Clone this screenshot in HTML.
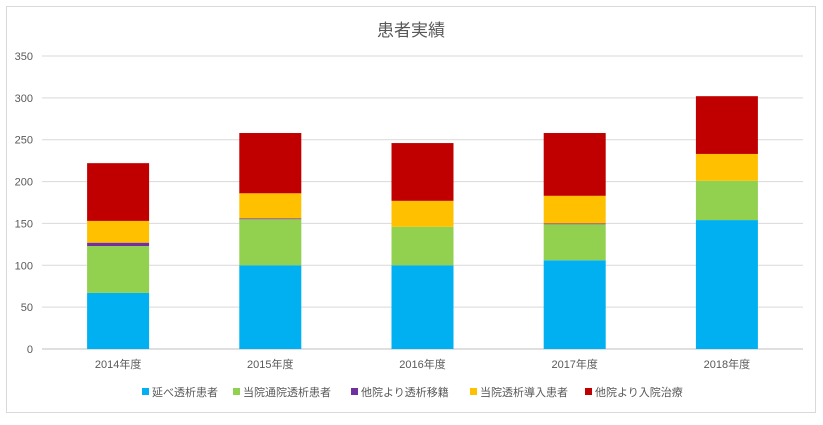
<!DOCTYPE html>
<html><head><meta charset="utf-8"><style>
body{margin:0;background:#fff;}
svg text{font-family:"Liberation Sans","Noto Sans CJK JP",sans-serif;}
</style></head><body>
<svg width="823" height="420" xmlns="http://www.w3.org/2000/svg">
<rect x="6.5" y="6.5" width="809" height="406" fill="#fff" stroke="#d9d9d9"/>
<text x="411" y="36" text-anchor="middle" font-size="17" fill="#595959">患者実績</text>
<g id="grid"></g><g id="bars"></g><g id="xlabels"></g><g id="legend"></g>
</svg>
<script>
const categories=["2014年度","2015年度","2016年度","2017年度","2018年度"];
const seriesNames=["延べ透析患者","当院通院透析患者","他院より透析移籍","当院透析導入患者","他院より入院治療"];
const blue=[67,100,100,106,154];
const green=[56,55,46,43,47];
const purple=[4,1,0,1,0];
const yellow=[26,30,31,33,32];
const red=[69,72,69,75,69];
const yTicks=[0,50,100,150,200,250,300,350];
const colors=["#00b0f0","#92d050","#7030a0","#ffc000","#c00000"];
const series=[blue,green,purple,yellow,red];
const NS="http://www.w3.org/2000/svg";
const x0=42,x1=803,y0=349,y1=56,yMax=350;
const yS=v=>y0-(v/yMax)*(y0-y1);
const band=(x1-x0)/categories.length;
const xC=i=>x0+band*(i+0.5);
const bw=62;
function mk(t,a,p){const e=document.createElementNS(NS,t);for(const k in a)e.setAttribute(k,a[k]);p.appendChild(e);return e;}
const grid=document.getElementById('grid');
yTicks.forEach(t=>{
 const l=mk('line',{x1:x0,x2:x1,y1:yS(t),y2:yS(t),stroke:t===0?'#bfbfbf':'#d9d9d9'},grid);
 
 
 const tx=mk('text',{x:33,y:yS(t)+4,'text-anchor':'end','font-size':11,fill:'#595959'},grid);
 tx.textContent=t;
 
 
});
const bars=document.getElementById('bars');
categories.forEach((c,i)=>{
 let cum=0;
 series.forEach((s,k)=>{
  const v=s[i];if(v<=0)return;
  const r=mk('rect',{x:xC(i)-bw/2,y:yS(cum+v),width:bw,height:yS(cum)-yS(cum+v),fill:colors[k]},bars);
  
  
  cum+=v;
 });
 const t=mk('text',{x:xC(i),y:368,'text-anchor':'middle','font-size':11,fill:'#595959'},document.getElementById('xlabels'));
 t.textContent=c;
 
 
});
const lg=document.getElementById('legend');
const lx=[146,237,355,474,589];
seriesNames.forEach((n,k)=>{
 const g=mk('g',{},lg);
 
 
 mk('rect',{x:lx[k]-4,y:388,width:7,height:7,fill:colors[k]},g);
 const t=mk('text',{x:lx[k]+6,y:396,'font-size':11,fill:'#595959'},g);
 t.textContent=n;
});
</script>
</body></html>
